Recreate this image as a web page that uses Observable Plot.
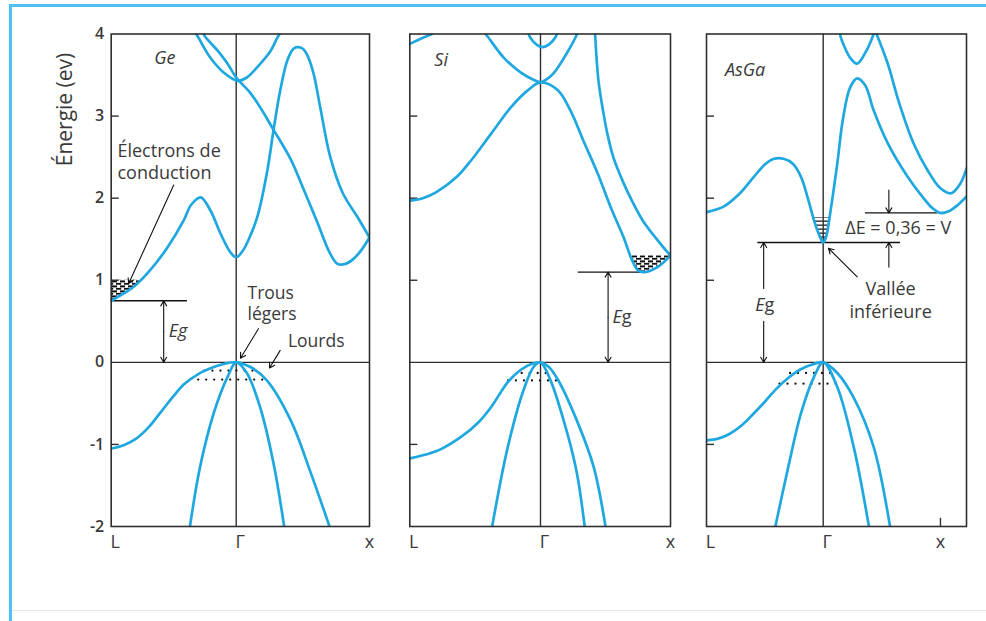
<!DOCTYPE html>
<html>
<head>
<meta charset="utf-8">
<script src="https://cdn.jsdelivr.net/npm/d3@7"></script>
<script src="https://cdn.jsdelivr.net/npm/@observablehq/plot@0.6"></script>
<style>
  body { margin: 0; background: #fff; }
  #fig { position: relative; width: 986px; height: 621px; overflow: hidden; background: #fff; }
  #fig svg { position: absolute; left: 0; top: 0; }
  .border { position: absolute; left: 9px; top: 4px; right: -10px; bottom: -10px;
            border-top: 3px solid #4fc1f0; border-left: 3px solid #4fc1f0; }
  .base { position: absolute; left: 12px; right: 0; top: 610px; height: 1px; background: #e6e6e6; }
</style>
</head>
<body>
<svg width="0" height="0" style="position:absolute">
  <defs>
    <pattern id="speckle" patternUnits="userSpaceOnUse" width="8" height="5">
      <rect width="8" height="5" fill="#fff"/>
      <rect x="0" y="0.4" width="5" height="2" fill="#111"/>
      <rect x="4" y="2.9" width="4" height="1.8" fill="#111"/>
      <rect x="0" y="2.9" width="1.2" height="1.8" fill="#111"/>
    </pattern>
    <pattern id="stripes" patternUnits="userSpaceOnUse" width="6" height="4">
      <rect width="6" height="4" fill="#fff"/>
      <rect x="0" y="0.5" width="6" height="1.3" fill="#222"/>
    </pattern>
  </defs>
</svg>
<div id="fig"><div class="border"></div><div class="base"></div></div>
<script>
const BLUE = "#1fa8e0";
const INK = "#2f2f2f";
const TXT = "#3a3a3a";
const FONT = "'Open Sans', 'Liberation Sans', Arial, sans-serif";

// Energy axis (eV)
const energyTicks = [4, 3, 2, 1, 0, -1, -2];
const innerTicks = [3, 2, 1, -1];
// Symmetry points along the wave-vector axis: L = -1, Γ = 0, X = 1
const symmetryK = [-1, 0, 1];
const symmetryLabels = ["L", "Γ", "x"];

// ---- Germanium bands, [k, E] ----
const geCond1 = [[-1,0.75],[-0.9,0.84],[-0.82,0.92],[-0.69,1.12],[-0.55,1.40],[-0.42,1.73],[-0.36,1.92],[-0.284,2.01],[-0.206,1.85],[-0.126,1.57],[-0.046,1.34],[0,1.28],[0.05,1.36],[0.1,1.52],[0.16,1.78],[0.234,2.34],[0.28,2.83],[0.33,3.31],[0.384,3.68],[0.43,3.82],[0.46,3.84],[0.5,3.82],[0.534,3.74],[0.58,3.52],[0.63,3.11],[0.706,2.5],[0.8,2.06],[0.91,1.77],[1,1.52]];
const geCond2 = [[-0.26,4.0],[-0.245,3.96],[-0.15,3.8],[-0.07,3.64],[0,3.47],[0.107,3.28],[0.19,3.08],[0.27,2.86],[0.41,2.47],[0.5,2.13],[0.61,1.7],[0.7,1.34],[0.76,1.2],[0.82,1.2],[0.88,1.26],[0.94,1.37],[1,1.52]];
const geCond3 = [[-0.32,4.0],[-0.3,3.95],[-0.206,3.71],[-0.1,3.53],[0.01,3.43],[0.08,3.47],[0.16,3.6],[0.26,3.8],[0.31,3.96],[0.325,4.0]];
const geValHeavy = [[-1,-1.05],[-0.9,-1.01],[-0.8,-0.93],[-0.7,-0.79],[-0.6,-0.6],[-0.5,-0.41],[-0.42,-0.27],[-0.3,-0.14],[-0.2,-0.07],[-0.1,-0.02],[0,0],[0.11,-0.06],[0.23,-0.22],[0.41,-0.71],[0.56,-1.35],[0.7,-2]];
const geValLight = [[-0.37,-2],[-0.29,-1.28],[-0.18,-0.62],[-0.07,-0.18],[0,0],[0.08,-0.13],[0.18,-0.55],[0.28,-1.23],[0.36,-2]];
const geElectronPocket = [[-1,0.75],[-0.9,0.84],[-0.82,0.92],[-0.766,1.0]];
const geElectronTop = 1.0;
const geHoleRows = [{k1:-0.25, k2:0.15, E:-0.1}, {k1:-0.3, k2:0.2, E:-0.21}];
const geGap = 0.75;

// ---- Silicon bands ----
const siCond1 = [[-1,1.97],[-0.9,2.0],[-0.8,2.07],[-0.64,2.26],[-0.536,2.45],[-0.38,2.78],[-0.23,3.1],[-0.1,3.31],[0,3.41],[0.13,3.32],[0.23,3.07],[0.33,2.7],[0.44,2.3],[0.54,1.89],[0.64,1.52],[0.7,1.26],[0.75,1.12],[0.8,1.1],[0.9,1.16],[1,1.3]];
const siCond2 = [[-0.42,4.0],[-0.4,3.96],[-0.28,3.71],[-0.15,3.53],[-0.05,3.44],[0,3.41],[0.04,3.44],[0.1,3.52],[0.2,3.76],[0.27,3.96],[0.28,4.0]];
const siCond3 = [[-0.09,4.0],[-0.08,3.96],[-0.03,3.87],[0.015,3.84],[0.07,3.88],[0.115,3.96],[0.125,4.0]];
const siCond4 = [[0.42,4.0],[0.446,3.43],[0.485,3.03],[0.515,2.78],[0.56,2.5],[0.64,2.18],[0.7,1.98],[0.79,1.72],[0.92,1.45],[1,1.3]];
const siCond5 = [[-1,3.88],[-0.92,3.94],[-0.83,4.0]];
const siValHeavy = [[-1,-1.17],[-0.85,-1.11],[-0.765,-1.06],[-0.6,-0.9],[-0.48,-0.74],[-0.38,-0.55],[-0.25,-0.24],[-0.15,-0.09],[-0.07,-0.02],[0,0],[0.06,-0.05],[0.13,-0.2],[0.28,-0.71],[0.41,-1.28],[0.5,-2]];
const siValLight = [[-0.37,-2],[-0.25,-1.03],[-0.13,-0.34],[-0.05,-0.05],[0,0],[0.077,-0.22],[0.2,-0.83],[0.28,-1.35],[0.34,-2]];
const siElectronPocket = [[0.69,1.3],[0.7,1.26],[0.75,1.12],[0.8,1.1],[0.9,1.16],[1,1.3]];
const siElectronTop = 1.3;
const siHoleRows = [{k1:-0.14, k2:0.13, E:-0.13}, {k1:-0.245, k2:0.17, E:-0.22}];
const siGap = 1.1;

// ---- Gallium arsenide bands ----
const agValley = 1.46;
const agDeltaE = 0.36;
const agCond1 = [[-1,1.83],[-0.85,1.9],[-0.72,2.05],[-0.6,2.25],[-0.5,2.41],[-0.42,2.48],[-0.34,2.48],[-0.26,2.42],[-0.19,2.26],[-0.13,1.99],[-0.07,1.69],[-0.025,1.52],[0,1.46],[0.025,1.53],[0.06,1.82],[0.12,2.42],[0.17,2.98],[0.23,3.35],[0.29,3.46],[0.36,3.37],[0.43,3.07],[0.55,2.67],[0.72,2.26],[0.85,2.01],[0.93,1.88],[1,1.82],[1.07,1.84],[1.15,1.92],[1.222,2.02]];
const agCond2 = [[0.455,4.0],[0.55,3.64],[0.65,3.15],[0.77,2.67],[0.89,2.34],[1,2.12],[1.09,2.06],[1.17,2.18],[1.222,2.36]];
const agCond3 = [[0.145,4.0],[0.15,3.96],[0.23,3.71],[0.29,3.64],[0.37,3.8],[0.42,3.96],[0.43,4.0]];
const agValHeavy = [[-1,-0.95],[-0.9,-0.93],[-0.8,-0.87],[-0.7,-0.77],[-0.6,-0.63],[-0.5,-0.48],[-0.4,-0.32],[-0.3,-0.19],[-0.2,-0.09],[-0.1,-0.03],[0,0],[0.12,-0.13],[0.26,-0.43],[0.43,-1.03],[0.57,-2]];
const agValLight = [[-0.41,-2],[-0.3,-1.28],[-0.19,-0.62],[-0.08,-0.18],[0,0],[0.12,-0.3],[0.26,-1.03],[0.39,-2]];
const agValleyPocket = [[-0.085,1.76],[-0.07,1.69],[-0.025,1.52],[0,1.46],[0.025,1.53],[0.05,1.72],[0.055,1.76]];
const agValleyTop = 1.76;
const agHoleRows = [{k1:-0.28, k2:0.1, E:-0.13}, {k1:-0.37, k2:0.15, E:-0.26}];

const decimalFr = v => String(v).replace(".", ",");

const panels = [
  {
    domain: [-1, 0, 1], range: [110.7, 235.7, 369],
    bands: [geCond1, geCond2, geCond3, geValHeavy, geValLight],
    pockets: [{edge: geElectronPocket, top: geElectronTop, fill: "url(#speckle)"}],
    holes: geHoleRows,
    levels: [{k1: -1, k2: -0.39, E: geGap}],
    arrows: [
      {k1: -0.58, E1: geGap / 2, k2: -0.58, E2: geGap},
      {k1: -0.58, E1: geGap / 2, k2: -0.58, E2: 0},
      {k1: -0.5, E1: 2.16, k2: -0.86, E2: 0.96},
      {k1: 0.167, E1: 0.41, k2: 0.032, E2: 0.05},
      {k1: 0.33, E1: 0.146, k2: 0.25, E2: -0.07}
    ],
    notes: [
      {k: -0.57, E: 3.71, t: "Ge", italic: true, anchor: "middle"},
      {k: -0.95, E: 2.45, t: "Électrons de\nconduction", lh: 1.22},
      {k: 0.085, E: 0.73, t: "Trous\nlégers", lh: 1.2, size: 17.5},
      {k: 0.388, E: 0.25, t: "Lourds", size: 17.5},
      {k: -0.54, E: 0.38, t: "Eg", italic: true}
    ],
    axis: true, xTick: false
  },
  {
    domain: [-1, 0, 1], range: [409.3, 540, 670],
    bands: [siCond1, siCond2, siCond3, siCond4, siCond5, siValHeavy, siValLight],
    pockets: [{edge: siElectronPocket, top: siElectronTop, fill: "url(#speckle)"}],
    holes: siHoleRows,
    levels: [{k1: 0.29, k2: 0.78, E: siGap}],
    arrows: [
      {k1: 0.52, E1: siGap / 2, k2: 0.52, E2: siGap},
      {k1: 0.52, E1: siGap / 2, k2: 0.52, E2: 0}
    ],
    notes: [
      {k: -0.76, E: 3.68, t: "Si", italic: true, anchor: "middle"},
      {k: 0.554, E: 0.55, t: "Eg", mixed: true}
    ],
    axis: false, xTick: false
  },
  {
    domain: [-1, 0, 1.222], range: [706, 822.7, 966],
    bands: [agCond1, agCond2, agCond3, agValHeavy, agValLight],
    pockets: [{edge: agValleyPocket, top: agValleyTop, fill: "url(#stripes)"}],
    holes: agHoleRows,
    levels: [{k1: -0.56, k2: 0.66, E: agValley}, {k1: 0.36, k2: 0.975, E: agValley + agDeltaE}],
    arrows: [
      {k1: -0.51, E1: 0.9, k2: -0.51, E2: agValley},
      {k1: -0.51, E1: 0.5, k2: -0.51, E2: 0},
      {k1: 0.56, E1: agValley + agDeltaE + 0.28, k2: 0.56, E2: agValley + agDeltaE},
      {k1: 0.56, E1: agValley - 0.3, k2: 0.56, E2: agValley},
      {k1: 0.29, E1: 1.04, k2: 0.045, E2: 1.39}
    ],
    notes: [
      {k: -0.67, E: 3.56, t: "AsGa", italic: true, anchor: "middle"},
      {k: 0.64, E: 1.63, t: `ΔE = ${decimalFr(agDeltaE)} = V`, anchor: "middle"},
      {k: -0.5, E: 0.69, t: "Eg", mixed: true, anchor: "middle"},
      {k: 0.575, E: 0.77, t: "Vallée\ninférieure", anchor: "middle", lh: 1.28}
    ],
    axis: false, xTick: true
  }
];

const W = 986, H = 570, TOP = 33.5, BOTTOM = 44;
const fig = document.getElementById("fig");

for (const p of panels) {
  const left = p.range[0], right = p.range[p.range.length - 1];
  const X = d => d[0], Y = d => d[1];
  const kMax = p.domain[p.domain.length - 1];
  const symIdx = symmetryK.map((k, i) => i).filter(i => symmetryK[i] <= kMax);
  const marks = [
    ...p.pockets.map(q => Plot.areaY(q.edge, {x: X, y1: Y, y2: () => q.top, fill: q.fill, curve: "catmull-rom"})),
    Plot.ruleY([0], {stroke: INK, strokeWidth: 1.4}),
    Plot.ruleX([0], {stroke: INK, strokeWidth: 1.4}),
    Plot.ruleY(innerTicks, {stroke: INK, strokeWidth: 1.4, insetRight: right - left - 8}),
    Plot.ruleY(p.holes, {y: "E", x1: "k1", x2: "k2", stroke: "#111", strokeWidth: 2.3, strokeDasharray: "0 8", strokeLinecap: "round"}),
    Plot.ruleY(p.levels, {y: "E", x1: "k1", x2: "k2", stroke: "#111", strokeWidth: 1.3}),
    ...p.bands.map(b => Plot.line(b, {x: X, y: Y, stroke: BLUE, strokeWidth: 2.7, curve: "catmull-rom", clip: true})),
    Plot.frame({stroke: INK, strokeWidth: 1.6}),
    Plot.arrow(p.arrows, {x1: "k1", y1: "E1", x2: "k2", y2: "E2", stroke: "#111", strokeWidth: 1.1, headLength: 8}),
    ...p.notes.map(n => Plot.text([n], {
      x: "k", y: "E", text: "t", textAnchor: n.anchor || "start", lineHeight: n.lh || 1,
      fontStyle: n.italic ? "italic" : "normal", fontSize: n.size || 18,
      fontFamily: FONT, fill: TXT
    })),
    Plot.text(symIdx, {
      x: i => symmetryK[i], frameAnchor: "bottom", dy: 21,
      text: i => symmetryLabels[i], textAnchor: "middle",
      fontSize: 18, fontFamily: FONT, fill: TXT
    })
  ];
  if (p.xTick) marks.push(Plot.ruleX([1], {y1: -2, y2: -1.9, stroke: INK, strokeWidth: 1.4}));
  if (p.axis) {
    marks.push(Plot.text(energyTicks, {y: d => d, text: d => String(d), frameAnchor: "left", dx: -7, textAnchor: "end",
      fontSize: 16, fontWeight: 600, fontFamily: FONT, fill: TXT}));
    marks.push(Plot.text(["Énergie (ev)"], {frameAnchor: "left", y: 3.08, dx: -46, rotate: -90, textAnchor: "middle",
      fontSize: 21, fontFamily: FONT, fill: TXT}));
  }
  const svg = Plot.plot({
    width: W, height: H,
    marginLeft: left, marginRight: W - right, marginTop: TOP, marginBottom: BOTTOM,
    x: {type: "linear", domain: p.domain, range: p.range, axis: null},
    y: {type: "linear", domain: [-2, 4], axis: null},
    style: {background: "transparent", overflow: "visible", fontFamily: FONT},
    marks
  });
  // "Eg" with italic E and upright g
  const eg = p.notes.find(m => m.t === "Eg");
  d3.select(svg).selectAll("text").each(function () {
    if (this.textContent === "Eg" && eg && eg.mixed) {
      this.textContent = "";
      d3.select(this).append("tspan").attr("font-style", "italic").text("E");
      d3.select(this).append("tspan").text("g");
    }
  });
  // nudge symmetry-point letters off their gridlines
  d3.select(svg).selectAll("text").each(function () {
    const t = this.textContent;
    if (t === "L" || t === "Γ") {
      const cur = this.getAttribute("transform") || "";
      this.setAttribute("transform", cur + " translate(4,0)");
    }
  });
  fig.appendChild(svg);
}
</script>
</body>
</html>
